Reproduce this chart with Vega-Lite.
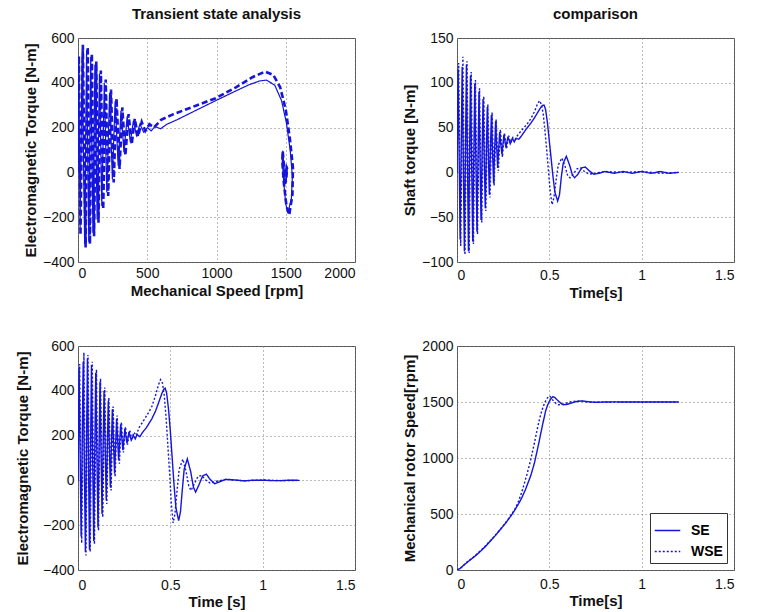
{
  "$schema": "https://vega.github.io/schema/vega-lite/v6.json",
  "padding": {"left": 14, "top": 6, "right": 5, "bottom": 0},
  "background": "white",
  "columns": 2,
  "spacing": {"row": 84, "column": 102},
  "bounds": "flush",
  "datasets": {
    "sim": [
      {"series": "SE", "t": 0.000, "te": 0, "tsh": 0, "speed": 0},
      {"series": "SE", "t": 0.006, "te": 500, "tsh": 115, "speed": 5},
      {"series": "SE", "t": 0.017, "te": -250, "tsh": -75, "speed": 15},
      {"series": "SE", "t": 0.028, "te": 530, "tsh": 118, "speed": 30},
      {"series": "SE", "t": 0.040, "te": -320, "tsh": -88, "speed": 48},
      {"series": "SE", "t": 0.051, "te": 545, "tsh": 120, "speed": 62},
      {"series": "SE", "t": 0.062, "te": -310, "tsh": -88, "speed": 78},
      {"series": "SE", "t": 0.073, "te": 515, "tsh": 108, "speed": 92},
      {"series": "SE", "t": 0.085, "te": -270, "tsh": -77, "speed": 108},
      {"series": "SE", "t": 0.096, "te": 480, "tsh": 99, "speed": 122},
      {"series": "SE", "t": 0.108, "te": -210, "tsh": -66, "speed": 138},
      {"series": "SE", "t": 0.119, "te": 440, "tsh": 90, "speed": 155},
      {"series": "SE", "t": 0.130, "te": -150, "tsh": -53, "speed": 172},
      {"series": "SE", "t": 0.141, "te": 400, "tsh": 82, "speed": 190},
      {"series": "SE", "t": 0.153, "te": -90, "tsh": -40, "speed": 208},
      {"series": "SE", "t": 0.164, "te": 355, "tsh": 73, "speed": 228},
      {"series": "SE", "t": 0.175, "te": -30, "tsh": -25, "speed": 248},
      {"series": "SE", "t": 0.186, "te": 318, "tsh": 64, "speed": 268},
      {"series": "SE", "t": 0.198, "te": 30, "tsh": -12, "speed": 290},
      {"series": "SE", "t": 0.209, "te": 275, "tsh": 57, "speed": 310},
      {"series": "SE", "t": 0.220, "te": 90, "tsh": 5, "speed": 332},
      {"series": "SE", "t": 0.231, "te": 250, "tsh": 45, "speed": 355},
      {"series": "SE", "t": 0.243, "te": 135, "tsh": 20, "speed": 378},
      {"series": "SE", "t": 0.254, "te": 230, "tsh": 42, "speed": 400},
      {"series": "SE", "t": 0.265, "te": 165, "tsh": 28, "speed": 422},
      {"series": "SE", "t": 0.276, "te": 215, "tsh": 40, "speed": 447},
      {"series": "SE", "t": 0.288, "te": 180, "tsh": 32, "speed": 474},
      {"series": "SE", "t": 0.300, "te": 200, "tsh": 38, "speed": 502},
      {"series": "SE", "t": 0.310, "te": 185, "tsh": 34, "speed": 528},
      {"series": "SE", "t": 0.320, "te": 205, "tsh": 38, "speed": 555},
      {"series": "SE", "t": 0.335, "te": 195, "tsh": 37, "speed": 596},
      {"series": "SE", "t": 0.350, "te": 215, "tsh": 41, "speed": 642},
      {"series": "SE", "t": 0.370, "te": 235, "tsh": 47, "speed": 715},
      {"series": "SE", "t": 0.400, "te": 275, "tsh": 55, "speed": 845},
      {"series": "SE", "t": 0.420, "te": 310, "tsh": 61, "speed": 960},
      {"series": "SE", "t": 0.440, "te": 355, "tsh": 68, "speed": 1110},
      {"series": "SE", "t": 0.455, "te": 390, "tsh": 73, "speed": 1230},
      {"series": "SE", "t": 0.465, "te": 408, "tsh": 75, "speed": 1310},
      {"series": "SE", "t": 0.472, "te": 412, "tsh": 75, "speed": 1360},
      {"series": "SE", "t": 0.480, "te": 390, "tsh": 70, "speed": 1420},
      {"series": "SE", "t": 0.490, "te": 320, "tsh": 55, "speed": 1470},
      {"series": "SE", "t": 0.500, "te": 220, "tsh": 35, "speed": 1505},
      {"series": "SE", "t": 0.510, "te": 100, "tsh": 15, "speed": 1532},
      {"series": "SE", "t": 0.520, "te": -20, "tsh": -5, "speed": 1548},
      {"series": "SE", "t": 0.530, "te": -120, "tsh": -22, "speed": 1540},
      {"series": "SE", "t": 0.545, "te": -180, "tsh": -32, "speed": 1515},
      {"series": "SE", "t": 0.555, "te": -140, "tsh": -25, "speed": 1500},
      {"series": "SE", "t": 0.565, "te": -40, "tsh": -5, "speed": 1485},
      {"series": "SE", "t": 0.575, "te": 50, "tsh": 10, "speed": 1475},
      {"series": "SE", "t": 0.592, "te": 96, "tsh": 18, "speed": 1478},
      {"series": "SE", "t": 0.610, "te": 40, "tsh": 8, "speed": 1485},
      {"series": "SE", "t": 0.625, "te": -30, "tsh": -3, "speed": 1494},
      {"series": "SE", "t": 0.637, "te": -52, "tsh": -6, "speed": 1500},
      {"series": "SE", "t": 0.655, "te": -20, "tsh": -2, "speed": 1506},
      {"series": "SE", "t": 0.675, "te": 20, "tsh": 5, "speed": 1510},
      {"series": "SE", "t": 0.695, "te": 28, "tsh": 6, "speed": 1506},
      {"series": "SE", "t": 0.715, "te": 5, "tsh": 2, "speed": 1502},
      {"series": "SE", "t": 0.740, "te": -15, "tsh": -2, "speed": 1498},
      {"series": "SE", "t": 0.770, "te": -5, "tsh": -1, "speed": 1498},
      {"series": "SE", "t": 0.800, "te": 5, "tsh": 1, "speed": 1500},
      {"series": "SE", "t": 0.850, "te": 2, "tsh": -1, "speed": 1501},
      {"series": "SE", "t": 0.900, "te": -2, "tsh": 1, "speed": 1500},
      {"series": "SE", "t": 0.950, "te": 1, "tsh": -1, "speed": 1500},
      {"series": "SE", "t": 1.000, "te": 1, "tsh": 1, "speed": 1500},
      {"series": "SE", "t": 1.050, "te": -1, "tsh": -1, "speed": 1500},
      {"series": "SE", "t": 1.100, "te": -1, "tsh": 1, "speed": 1500},
      {"series": "SE", "t": 1.150, "te": 1, "tsh": -1, "speed": 1500},
      {"series": "SE", "t": 1.200, "te": 0, "tsh": 0, "speed": 1500},
      {"series": "WSE", "t": 0.000, "te": 0, "tsh": 0, "speed": 0},
      {"series": "WSE", "t": 0.009, "te": 520, "tsh": 122, "speed": 6},
      {"series": "WSE", "t": 0.020, "te": -280, "tsh": -82, "speed": 18},
      {"series": "WSE", "t": 0.032, "te": 570, "tsh": 129, "speed": 35},
      {"series": "WSE", "t": 0.043, "te": -335, "tsh": -92, "speed": 55},
      {"series": "WSE", "t": 0.054, "te": 560, "tsh": 124, "speed": 70},
      {"series": "WSE", "t": 0.066, "te": -320, "tsh": -90, "speed": 86},
      {"series": "WSE", "t": 0.077, "te": 530, "tsh": 112, "speed": 100},
      {"series": "WSE", "t": 0.089, "te": -285, "tsh": -80, "speed": 116},
      {"series": "WSE", "t": 0.100, "te": 495, "tsh": 103, "speed": 132},
      {"series": "WSE", "t": 0.111, "te": -225, "tsh": -69, "speed": 148},
      {"series": "WSE", "t": 0.122, "te": 455, "tsh": 94, "speed": 165},
      {"series": "WSE", "t": 0.134, "te": -165, "tsh": -56, "speed": 182},
      {"series": "WSE", "t": 0.145, "te": 415, "tsh": 85, "speed": 200},
      {"series": "WSE", "t": 0.156, "te": -105, "tsh": -43, "speed": 218},
      {"series": "WSE", "t": 0.167, "te": 370, "tsh": 76, "speed": 238},
      {"series": "WSE", "t": 0.179, "te": -45, "tsh": -28, "speed": 258},
      {"series": "WSE", "t": 0.190, "te": 330, "tsh": 67, "speed": 278},
      {"series": "WSE", "t": 0.201, "te": 15, "tsh": -15, "speed": 300},
      {"series": "WSE", "t": 0.212, "te": 290, "tsh": 59, "speed": 320},
      {"series": "WSE", "t": 0.224, "te": 75, "tsh": 2, "speed": 342},
      {"series": "WSE", "t": 0.235, "te": 260, "tsh": 48, "speed": 365},
      {"series": "WSE", "t": 0.246, "te": 125, "tsh": 17, "speed": 388},
      {"series": "WSE", "t": 0.257, "te": 240, "tsh": 44, "speed": 410},
      {"series": "WSE", "t": 0.268, "te": 160, "tsh": 26, "speed": 433},
      {"series": "WSE", "t": 0.280, "te": 225, "tsh": 41, "speed": 460},
      {"series": "WSE", "t": 0.291, "te": 185, "tsh": 33, "speed": 486},
      {"series": "WSE", "t": 0.303, "te": 215, "tsh": 39, "speed": 516},
      {"series": "WSE", "t": 0.315, "te": 200, "tsh": 37, "speed": 548},
      {"series": "WSE", "t": 0.330, "te": 235, "tsh": 42, "speed": 600},
      {"series": "WSE", "t": 0.350, "te": 260, "tsh": 47, "speed": 690},
      {"series": "WSE", "t": 0.380, "te": 300, "tsh": 54, "speed": 860},
      {"series": "WSE", "t": 0.400, "te": 330, "tsh": 60, "speed": 990},
      {"series": "WSE", "t": 0.420, "te": 380, "tsh": 68, "speed": 1140},
      {"series": "WSE", "t": 0.435, "te": 425, "tsh": 76, "speed": 1260},
      {"series": "WSE", "t": 0.447, "te": 450, "tsh": 80, "speed": 1350},
      {"series": "WSE", "t": 0.457, "te": 435, "tsh": 76, "speed": 1410},
      {"series": "WSE", "t": 0.467, "te": 380, "tsh": 65, "speed": 1460},
      {"series": "WSE", "t": 0.477, "te": 280, "tsh": 45, "speed": 1500},
      {"series": "WSE", "t": 0.487, "te": 150, "tsh": 22, "speed": 1530},
      {"series": "WSE", "t": 0.497, "te": 20, "tsh": -3, "speed": 1552},
      {"series": "WSE", "t": 0.505, "te": -100, "tsh": -22, "speed": 1548},
      {"series": "WSE", "t": 0.515, "te": -190, "tsh": -36, "speed": 1525},
      {"series": "WSE", "t": 0.525, "te": -150, "tsh": -28, "speed": 1505},
      {"series": "WSE", "t": 0.537, "te": -40, "tsh": -8, "speed": 1485},
      {"series": "WSE", "t": 0.548, "te": 50, "tsh": 8, "speed": 1475},
      {"series": "WSE", "t": 0.568, "te": 95, "tsh": 16, "speed": 1478},
      {"series": "WSE", "t": 0.585, "te": 40, "tsh": 7, "speed": 1486},
      {"series": "WSE", "t": 0.600, "te": -25, "tsh": -4, "speed": 1495},
      {"series": "WSE", "t": 0.612, "te": -45, "tsh": -6, "speed": 1500},
      {"series": "WSE", "t": 0.630, "te": -15, "tsh": -2, "speed": 1505},
      {"series": "WSE", "t": 0.650, "te": 18, "tsh": 4, "speed": 1510},
      {"series": "WSE", "t": 0.670, "te": 22, "tsh": 5, "speed": 1507},
      {"series": "WSE", "t": 0.690, "te": 3, "tsh": 1, "speed": 1502},
      {"series": "WSE", "t": 0.715, "te": -12, "tsh": -2, "speed": 1498},
      {"series": "WSE", "t": 0.750, "te": -4, "tsh": -1, "speed": 1499},
      {"series": "WSE", "t": 0.800, "te": 4, "tsh": 1, "speed": 1500},
      {"series": "WSE", "t": 0.900, "te": -2, "tsh": 0, "speed": 1500},
      {"series": "WSE", "t": 1.000, "te": 2, "tsh": 1, "speed": 1500},
      {"series": "WSE", "t": 1.100, "te": -1, "tsh": -1, "speed": 1500},
      {"series": "WSE", "t": 1.200, "te": 0, "tsh": 0, "speed": 1500}
    ]
  },
  "concat": [
    {
      "title": "Transient state analysis",
      "width": 277, "height": 224,
      "data": {"name": "sim"},
      "mark": {"type": "line", "color": "#1414dc", "clip": true},
      "encoding": {
        "x": {"field": "speed", "type": "quantitative", "scale": {"domain": [0, 2000], "nice": false},
              "axis": {"values": [0, 500, 1000, 1500, 2000], "format": "d", "title": "Mechanical Speed [rpm]", "labelPadding": 4, "titlePadding": 3}},
        "y": {"field": "te", "type": "quantitative", "scale": {"domain": [-400, 600], "nice": false},
              "axis": {"values": [-400, -200, 0, 200, 400, 600], "format": "d", "title": "Electromagnetic Torque [N-m]", "titlePadding": 4}},
        "order": {"field": "t", "type": "quantitative"},
        "strokeDash": {"field": "series", "type": "nominal", "scale": {"domain": ["SE", "WSE"], "range": [[1, 0], [6, 3]]}, "legend": null},
        "strokeWidth": {"field": "series", "type": "ordinal", "scale": {"domain": ["SE", "WSE"], "range": [1.2, 2.6]}, "legend": null}
      }
    },
    {
      "title": "comparison",
      "width": 277, "height": 224,
      "data": {"name": "sim"},
      "mark": {"type": "line", "color": "#1414dc", "clip": true, "strokeWidth": 1.4},
      "encoding": {
        "x": {"field": "t", "type": "quantitative", "scale": {"domain": [0, 1.5], "nice": false},
              "axis": {"values": [0, 0.5, 1, 1.5], "format": ".1~f", "title": "Time[s]", "labelPadding": 6, "titlePadding": 3}},
        "y": {"field": "tsh", "type": "quantitative", "scale": {"domain": [-100, 150], "nice": false},
              "axis": {"values": [-100, -50, 0, 50, 100, 150], "format": "d", "title": "Shaft torque [N-m]", "titlePadding": 4}},
        "order": {"field": "t", "type": "quantitative"},
        "strokeDash": {"field": "series", "type": "nominal", "scale": {"domain": ["SE", "WSE"], "range": [[1, 0], [2, 2]]}, "legend": null}
      }
    },
    {
      "width": 277, "height": 224,
      "data": {"name": "sim"},
      "mark": {"type": "line", "color": "#1414dc", "clip": true, "strokeWidth": 1.4},
      "encoding": {
        "x": {"field": "t", "type": "quantitative", "scale": {"domain": [0, 1.5], "nice": false},
              "axis": {"values": [0, 0.5, 1, 1.5], "format": ".1~f", "title": "Time [s]", "labelPadding": 8, "titlePadding": 2}},
        "y": {"field": "te", "type": "quantitative", "scale": {"domain": [-400, 600], "nice": false},
              "axis": {"values": [-400, -200, 0, 200, 400, 600], "format": "d", "title": "Electromagnetic Torque [N-m]", "titlePadding": 12}},
        "order": {"field": "t", "type": "quantitative"},
        "strokeDash": {"field": "series", "type": "nominal", "scale": {"domain": ["SE", "WSE"], "range": [[1, 0], [2, 2]]}, "legend": null}
      }
    },
    {
      "width": 277, "height": 224,
      "data": {"name": "sim"},
      "mark": {"type": "line", "color": "#1414dc", "clip": true, "strokeWidth": 1.4},
      "encoding": {
        "x": {"field": "t", "type": "quantitative", "scale": {"domain": [0, 1.5], "nice": false},
              "axis": {"values": [0, 0.5, 1, 1.5], "format": ".1~f", "title": "Time[s]", "labelPadding": 7, "titlePadding": 2}},
        "y": {"field": "speed", "type": "quantitative", "scale": {"domain": [0, 2000], "nice": false},
              "axis": {"values": [0, 500, 1000, 1500, 2000], "format": "d", "title": "Mechanical rotor Speed[rpm]", "titlePadding": 4}},
        "order": {"field": "t", "type": "quantitative"},
        "strokeDash": {"field": "series", "type": "nominal", "scale": {"domain": ["SE", "WSE"], "range": [[1, 0], [2, 2]]},
                       "legend": {"title": null, "orient": "bottom-right", "offset": 7, "fillColor": "white", "strokeColor": "#333333",
                                  "padding": 4, "labelFont": "Liberation Sans", "labelFontSize": 14, "labelFontWeight": "bold", "labelColor": "black",
                                  "symbolType": "stroke", "symbolSize": 650, "symbolStrokeColor": "#1414dc", "symbolStrokeWidth": 1.5, "rowPadding": 0, "labelOffset": 10}}
      }
    }
  ],
  "resolve": {"scale": {"strokeDash": "independent", "strokeWidth": "independent"}, "legend": {"strokeDash": "independent", "strokeWidth": "independent"}},
  "config": {
    "font": "Liberation Sans",
    "view": {"stroke": "#555555", "strokeWidth": 1},
    "axis": {
      "labelFont": "Liberation Sans", "labelFontSize": 14, "labelColor": "#111111",
      "titleFont": "Liberation Sans", "titleFontSize": 15, "titleFontWeight": "bold", "titleColor": "#111111",
      "grid": true, "gridDash": [1, 3], "gridColor": "#777777", "gridWidth": 1,
      "domain": false, "ticks": false, "labelPadding": 4
    },
    "title": {"font": "Liberation Sans", "fontSize": 15, "fontWeight": "bold", "color": "#111111", "offset": 9}
  }
}
